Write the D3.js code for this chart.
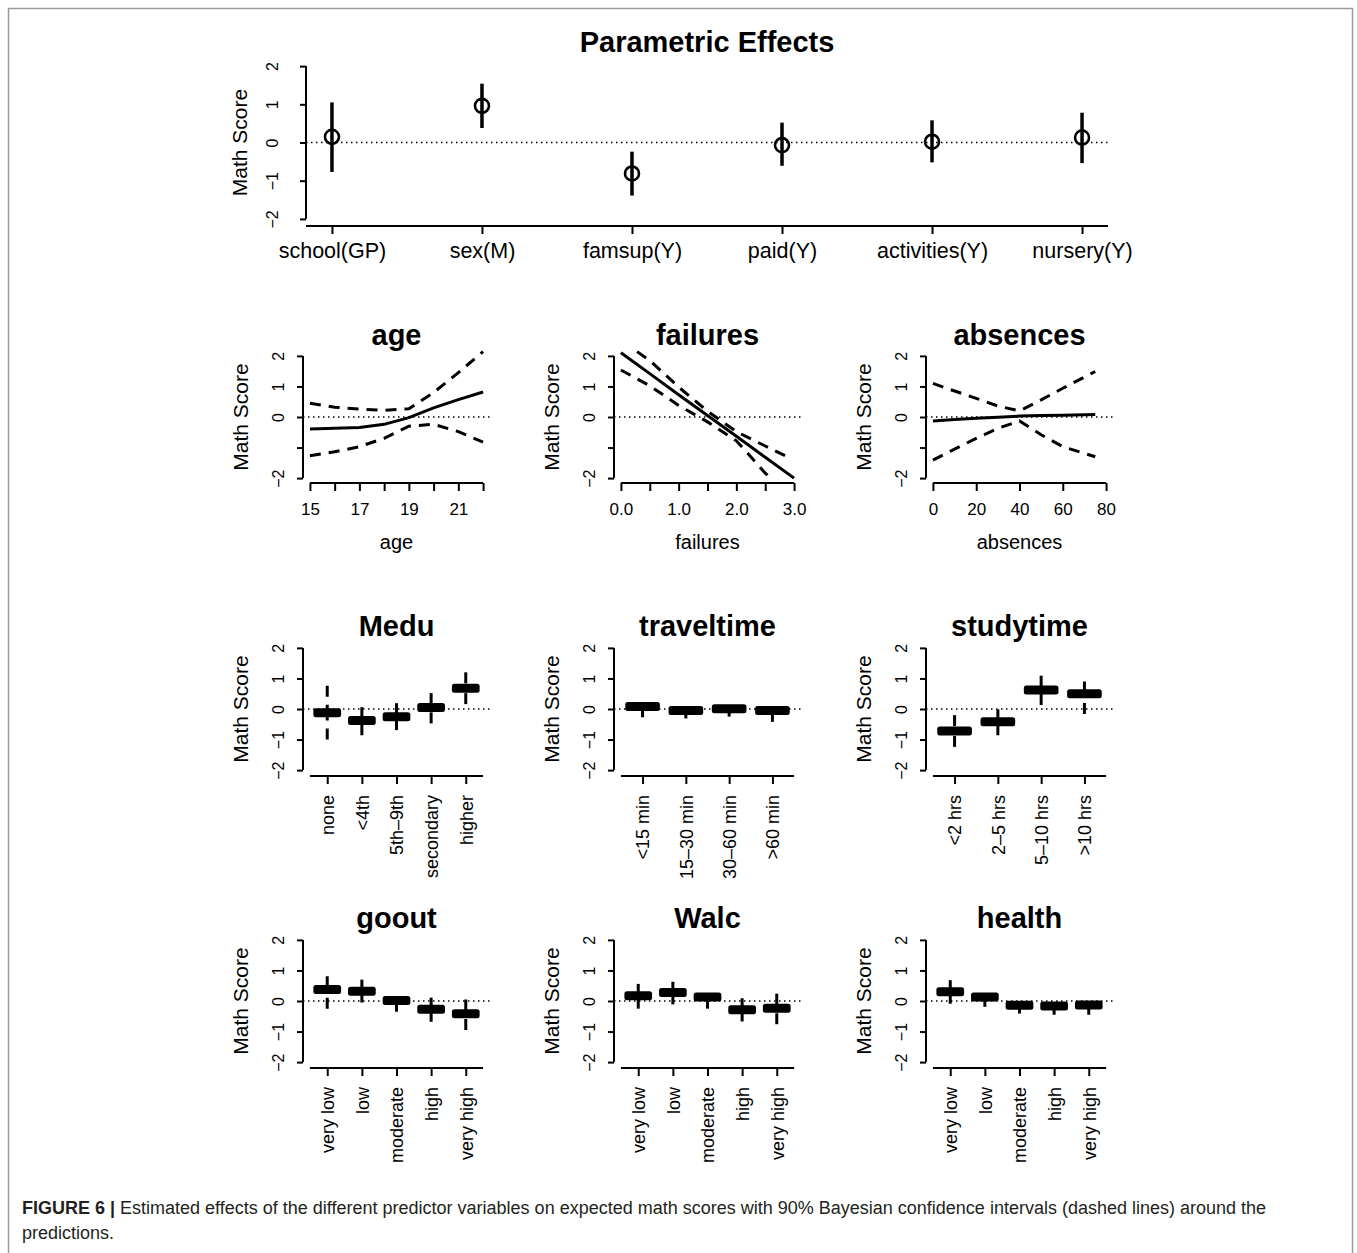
<!DOCTYPE html>
<html lang="en">
<head>
<meta charset="utf-8">
<title>Figure 6</title>
<script src="https://cdn.jsdelivr.net/npm/d3@7"></script>
<style>
    body { margin: 0; background: #fff; }
    text { font-family: "Liberation Sans", Arial, Helvetica, sans-serif; fill: #000; }
</style>
</head>
<body>
<script type="text/javascript">

    // ---- data ----
    var yTicks = [-2, -1, 0, 1, 2];

    // parametric effects (top panel)
    var paramLabels = ["school(GP)", "sex(M)", "famsup(Y)", "paid(Y)", "activities(Y)", "nursery(Y)"];
    var paramEst = [0.15, 0.96, -0.81, -0.07, 0.02, 0.13];
    var paramLo = [-0.77, 0.38, -1.39, -0.61, -0.52, -0.54];
    var paramHi = [1.05, 1.54, -0.24, 0.52, 0.58, 0.78];

    // smooth effects
    var ageX = [15, 16, 17, 18, 19, 20, 21, 22];
    var ageFit = [-0.39, -0.37, -0.34, -0.24, -0.02, 0.30, 0.57, 0.82];
    var ageUpper = [0.45, 0.32, 0.26, 0.22, 0.27, 0.80, 1.45, 2.14];
    var ageLower = [-1.27, -1.14, -0.97, -0.70, -0.30, -0.24, -0.48, -0.82];
    var ageTicks = [15, 16, 17, 18, 19, 20, 21, 22];
    var ageTickLabels = ["15", "", "17", "", "19", "", "21", ""];

    var failX = [0, 0.5, 1, 1.5, 2, 2.5, 3];
    var failFit = [2.10, 1.42, 0.73, 0.05, -0.63, -1.32, -2.00];
    var failUpperX = [0.28, 0.5, 1, 1.5, 2, 2.5, 2.9];
    var failUpper = [2.14, 1.85, 0.98, 0.19, -0.48, -0.95, -1.32];
    var failLowerX = [0, 0.5, 1, 1.5, 2, 2.25, 2.5, 2.6];
    var failLower = [1.54, 1.02, 0.38, -0.16, -0.78, -1.30, -1.84, -2.00];
    var failTicks = [0, 0.5, 1, 1.5, 2, 2.5, 3];
    var failTickLabels = ["0.0", "", "1.0", "", "2.0", "", "3.0"];

    var absX = [0, 10, 20, 30, 40, 50, 60, 75];
    var absFit = [-0.13, -0.08, -0.04, -0.01, 0.03, 0.05, 0.06, 0.08];
    var absUpper = [1.10, 0.85, 0.61, 0.36, 0.20, 0.56, 0.94, 1.49];
    var absLower = [-1.41, -1.05, -0.70, -0.37, -0.13, -0.58, -0.97, -1.30];
    var absTicks = [0, 20, 40, 60, 80];
    var absTickLabels = ["0", "20", "40", "60", "80"];

    // categorical effects: median, lower and upper whisker
    var meduLabels = ["none", "<4th", "5th\u20139th", "secondary", "higher"];
    var meduMed = [-0.12, -0.38, -0.25, 0.05, 0.68];
    var meduLo = [-1.00, -0.86, -0.69, -0.47, 0.16];
    var meduHi = [0.76, 0.06, 0.19, 0.52, 1.20];

    var travelLabels = ["<15 min", "15\u201330 min", "30\u201360 min", ">60 min"];
    var travelMed = [0.08, -0.05, 0.01, -0.05];
    var travelLo = [-0.27, -0.31, -0.25, -0.42];
    var travelHi = [0.20, 0.05, 0.10, 0.06];

    var studyLabels = ["<2 hrs", "2\u20135 hrs", "5\u201310 hrs", ">10 hrs"];
    var studyMed = [-0.72, -0.42, 0.62, 0.50];
    var studyLo = [-1.24, -0.86, 0.13, -0.16];
    var studyHi = [-0.20, -0.01, 1.09, 0.90];

    var levelLabels = ["very low", "low", "moderate", "high", "very high"];
    var gooutMed = [0.38, 0.32, 0.02, -0.27, -0.42];
    var gooutLo = [-0.25, -0.05, -0.35, -0.68, -0.95];
    var gooutHi = [0.81, 0.70, 0.10, 0.11, 0.05];

    var walcMed = [0.17, 0.28, 0.13, -0.29, -0.24];
    var walcLo = [-0.25, -0.11, -0.25, -0.67, -0.76];
    var walcHi = [0.56, 0.63, 0.20, 0.09, 0.24];

    var healthMed = [0.30, 0.13, -0.14, -0.16, -0.13];
    var healthLo = [-0.09, -0.19, -0.41, -0.45, -0.45];
    var healthHi = [0.68, 0.20, -0.05, -0.07, -0.05];

    // ---- layout ----
    var width = 1357;
    var height = 1253;
    var cols = [303, 614, 926];
    var rowTops = [351, 643, 935];
    var panelW = 187;
    var panelH = 132;

    var svg = d3.select("body").append("svg")
    .attr("width", width)
    .attr("height", height);

    // figure frame
    svg.append("path")
    .attr("d", "M8.5,1253 V8.5 H1352.5 V1253")
    .attr("fill", "none")
    .attr("stroke", "#9a9a9a")
    .attr("stroke-width", 1.5);

    function fmt(v) {
        return v < 0 ? "\u2212" + Math.abs(v) : String(v);
    }

    // y axis with rotated labels (R style)
    function drawYAxis(g, ax, y, showNeg1, labelOff, titleOff) {
        var axis = d3.axisLeft(y).tickValues(yTicks).tickSize(6).tickFormat(function (d) {
            return (d === -1 && !showNeg1) ? "" : fmt(d);
        });
        var a = g.append("g").attr("transform", "translate(" + ax + ",0)").call(axis);
        a.select(".domain").remove();
        a.selectAll(".tick line").attr("stroke-width", 2);
        a.selectAll(".tick text")
        .attr("x", null)
        .attr("dy", "0.35em")
        .attr("text-anchor", "middle")
        .attr("transform", "translate(" + (-labelOff) + ",0) rotate(-90)")
        .style("font-size", "16px");
        g.append("line")
        .attr("x1", ax).attr("x2", ax)
        .attr("y1", y(-2)).attr("y2", y(2))
        .attr("stroke", "#000").attr("stroke-width", 2);
        g.append("text")
        .attr("transform", "translate(" + (ax - titleOff) + "," + y(0) + ") rotate(-90)")
        .attr("dy", "0.35em")
        .attr("text-anchor", "middle")
        .style("font-size", "21px")
        .text("Math Score");
    }

    function zeroLine(g, x0, x1, y) {
        g.append("line")
        .attr("x1", x0).attr("x2", x1)
        .attr("y1", y(0)).attr("y2", y(0))
        .attr("stroke", "#000")
        .attr("stroke-width", 1.4)
        .attr("stroke-dasharray", "1.5,3.5");
    }

    function panelTitle(g, cx, cy, txt, size) {
        g.append("text")
        .attr("x", cx).attr("y", cy)
        .attr("dy", "0.35em")
        .attr("text-anchor", "middle")
        .style("font-size", size + "px")
        .style("font-weight", "bold")
        .text(txt);
    }

    // ---- top panel: parametric effects ----
    (function () {
        var ax = 306, right = 1108, top = 60, bottom = 225;
        var g = svg.append("g");
        var x = d3.scaleLinear().domain([0.827, 6.173]).range([ax, right]);
        var y = d3.scaleLinear().domain([-2.16, 2.16]).range([bottom, top]);

        panelTitle(g, (ax + right) / 2, 42, "Parametric Effects", 29);
        drawYAxis(g, ax, y, true, 34, 66);
        zeroLine(g, ax, right, y);

        var xa = g.append("g").attr("transform", "translate(0," + (bottom + 1) + ")")
        .call(d3.axisBottom(x).tickValues([1, 2, 3, 4, 5, 6]).tickSize(8)
            .tickFormat(function (d) { return paramLabels[d - 1]; }));
        xa.select(".domain").remove();
        xa.selectAll(".tick line").attr("stroke-width", 2);
        xa.selectAll(".tick text").attr("y", 24).attr("dy", "0.35em").style("font-size", "21.5px");
        g.append("line")
        .attr("x1", ax).attr("x2", right)
        .attr("y1", bottom + 1).attr("y2", bottom + 1)
        .attr("stroke", "#000").attr("stroke-width", 2);

        paramEst.forEach(function (v, i) {
            g.append("line")
            .attr("x1", x(i + 1)).attr("x2", x(i + 1))
            .attr("y1", y(paramLo[i])).attr("y2", y(paramHi[i]))
            .attr("stroke", "#000").attr("stroke-width", 3.5);
            g.append("circle")
            .attr("cx", x(i + 1)).attr("cy", y(v)).attr("r", 7)
            .attr("fill", "none").attr("stroke", "#000").attr("stroke-width", 2.6);
        });
    })();

    // ---- smooth term panels ----
    function curvePanel(col, row, title, xTitle, domain, ticks, tickLabels, fitX, fit, upX, up, loX, lo) {
        var ax = cols[col], top = rowTops[row], bottom = top + panelH;
        var g = svg.append("g");
        var x = d3.scaleLinear().domain(domain).range([ax, ax + panelW]);
        var y = d3.scaleLinear().domain([-2.16, 2.16]).range([bottom, top]);

        panelTitle(g, ax + panelW / 2, top - 16, title, 29);
        drawYAxis(g, ax, y, false, 25, 62);
        zeroLine(g, ax, ax + panelW, y);

        var xa = g.append("g").attr("transform", "translate(0," + bottom + ")")
        .call(d3.axisBottom(x).tickValues(ticks).tickSize(8)
            .tickFormat(function (d, i) { return tickLabels[i]; }));
        xa.select(".domain").remove();
        xa.selectAll(".tick line").attr("stroke-width", 2);
        xa.selectAll(".tick text").attr("y", 26).attr("dy", "0.35em").style("font-size", "17px");
        g.append("line")
        .attr("x1", x(ticks[0])).attr("x2", x(ticks[ticks.length - 1]))
        .attr("y1", bottom).attr("y2", bottom)
        .attr("stroke", "#000").attr("stroke-width", 2);
        g.append("text")
        .attr("x", ax + panelW / 2).attr("y", bottom + 59)
        .attr("dy", "0.35em").attr("text-anchor", "middle")
        .style("font-size", "20px")
        .text(xTitle);

        function path(xs, ys, dashed) {
            var line = d3.line()
            .x(function (d, i) { return x(xs[i]); })
            .y(function (d) { return y(d); });
            g.append("path")
            .attr("d", line(ys))
            .attr("fill", "none")
            .attr("stroke", "#000")
            .attr("stroke-width", 3)
            .attr("stroke-dasharray", dashed ? "11,8" : null);
        }
        path(fitX, fit, false);
        path(upX, up, true);
        path(loX, lo, true);
    }

    curvePanel(0, 0, "age", "age", [14.72, 22.28], ageTicks, ageTickLabels,
        ageX, ageFit, ageX, ageUpper, ageX, ageLower);
    curvePanel(1, 0, "failures", "failures", [-0.12, 3.12], failTicks, failTickLabels,
        failX, failFit, failUpperX, failUpper, failLowerX, failLower);
    curvePanel(2, 0, "absences", "absences", [-3.2, 83.2], absTicks, absTickLabels,
        absX, absFit, absX, absUpper, absX, absLower);

    // ---- categorical panels (box plots of posterior draws) ----
    function boxPanel(col, row, title, labels, med, lo, hi) {
        var n = labels.length;
        var ax = cols[col], top = rowTops[row], bottom = top + panelH;
        var ext = 0.04 * n;
        var g = svg.append("g");
        var x = d3.scaleLinear().domain([0.5 - ext, n + 0.5 + ext]).range([ax, ax + panelW]);
        var y = d3.scaleLinear().domain([-2.16, 2.16]).range([bottom, top]);

        panelTitle(g, ax + panelW / 2, top - 17, title, 29);
        drawYAxis(g, ax, y, true, 25, 62);
        zeroLine(g, ax, ax + panelW, y);

        var idx = d3.range(1, n + 1);
        var xa = g.append("g").attr("transform", "translate(0," + (bottom + 1) + ")")
        .call(d3.axisBottom(x).tickValues(idx).tickSize(8)
            .tickFormat(function (d) { return labels[d - 1]; }));
        xa.select(".domain").remove();
        xa.selectAll(".tick line").attr("stroke-width", 2);
        xa.selectAll(".tick text")
        .attr("y", null)
        .attr("dy", "0.35em")
        .attr("text-anchor", "end")
        .attr("transform", "translate(0,19) rotate(-90)")
        .style("font-size", "18px");
        g.append("line")
        .attr("x1", x(0.5)).attr("x2", x(n + 0.5))
        .attr("y1", bottom + 1).attr("y2", bottom + 1)
        .attr("stroke", "#000").attr("stroke-width", 2);

        med.forEach(function (m, i) {
            var cx = x(i + 1);
            [hi[i], lo[i]].forEach(function (w) {
                g.append("line")
                .attr("x1", cx).attr("x2", cx)
                .attr("y1", y(w)).attr("y2", y(m))
                .attr("stroke", "#000")
                .attr("stroke-width", 3)
                .attr("stroke-dasharray", "11,8");
            });
            g.append("rect")
            .attr("x", x(i + 0.6)).attr("width", x(i + 1.4) - x(i + 0.6))
            .attr("y", y(m) - 4.5).attr("height", 9)
            .attr("rx", 2.5)
            .attr("fill", "#000");
        });
    }

    boxPanel(0, 1, "Medu", meduLabels, meduMed, meduLo, meduHi);
    boxPanel(1, 1, "traveltime", travelLabels, travelMed, travelLo, travelHi);
    boxPanel(2, 1, "studytime", studyLabels, studyMed, studyLo, studyHi);
    boxPanel(0, 2, "goout", levelLabels, gooutMed, gooutLo, gooutHi);
    boxPanel(1, 2, "Walc", levelLabels, walcMed, walcLo, walcHi);
    boxPanel(2, 2, "health", levelLabels, healthMed, healthLo, healthHi);

    // ---- caption ----
    var cap = svg.append("text")
    .attr("x", 22).attr("y", 1214)
    .style("font-size", "18px")
    .style("fill", "#231f20");
    cap.append("tspan").style("font-weight", "bold").text("FIGURE 6 | ");
    cap.append("tspan").text("Estimated effects of the different predictor variables on expected math scores with 90% Bayesian confidence intervals (dashed lines) around the");
    svg.append("text")
    .attr("x", 22).attr("y", 1239)
    .style("font-size", "18px")
    .style("fill", "#231f20")
    .text("predictions.");

</script>
</body>
</html>
